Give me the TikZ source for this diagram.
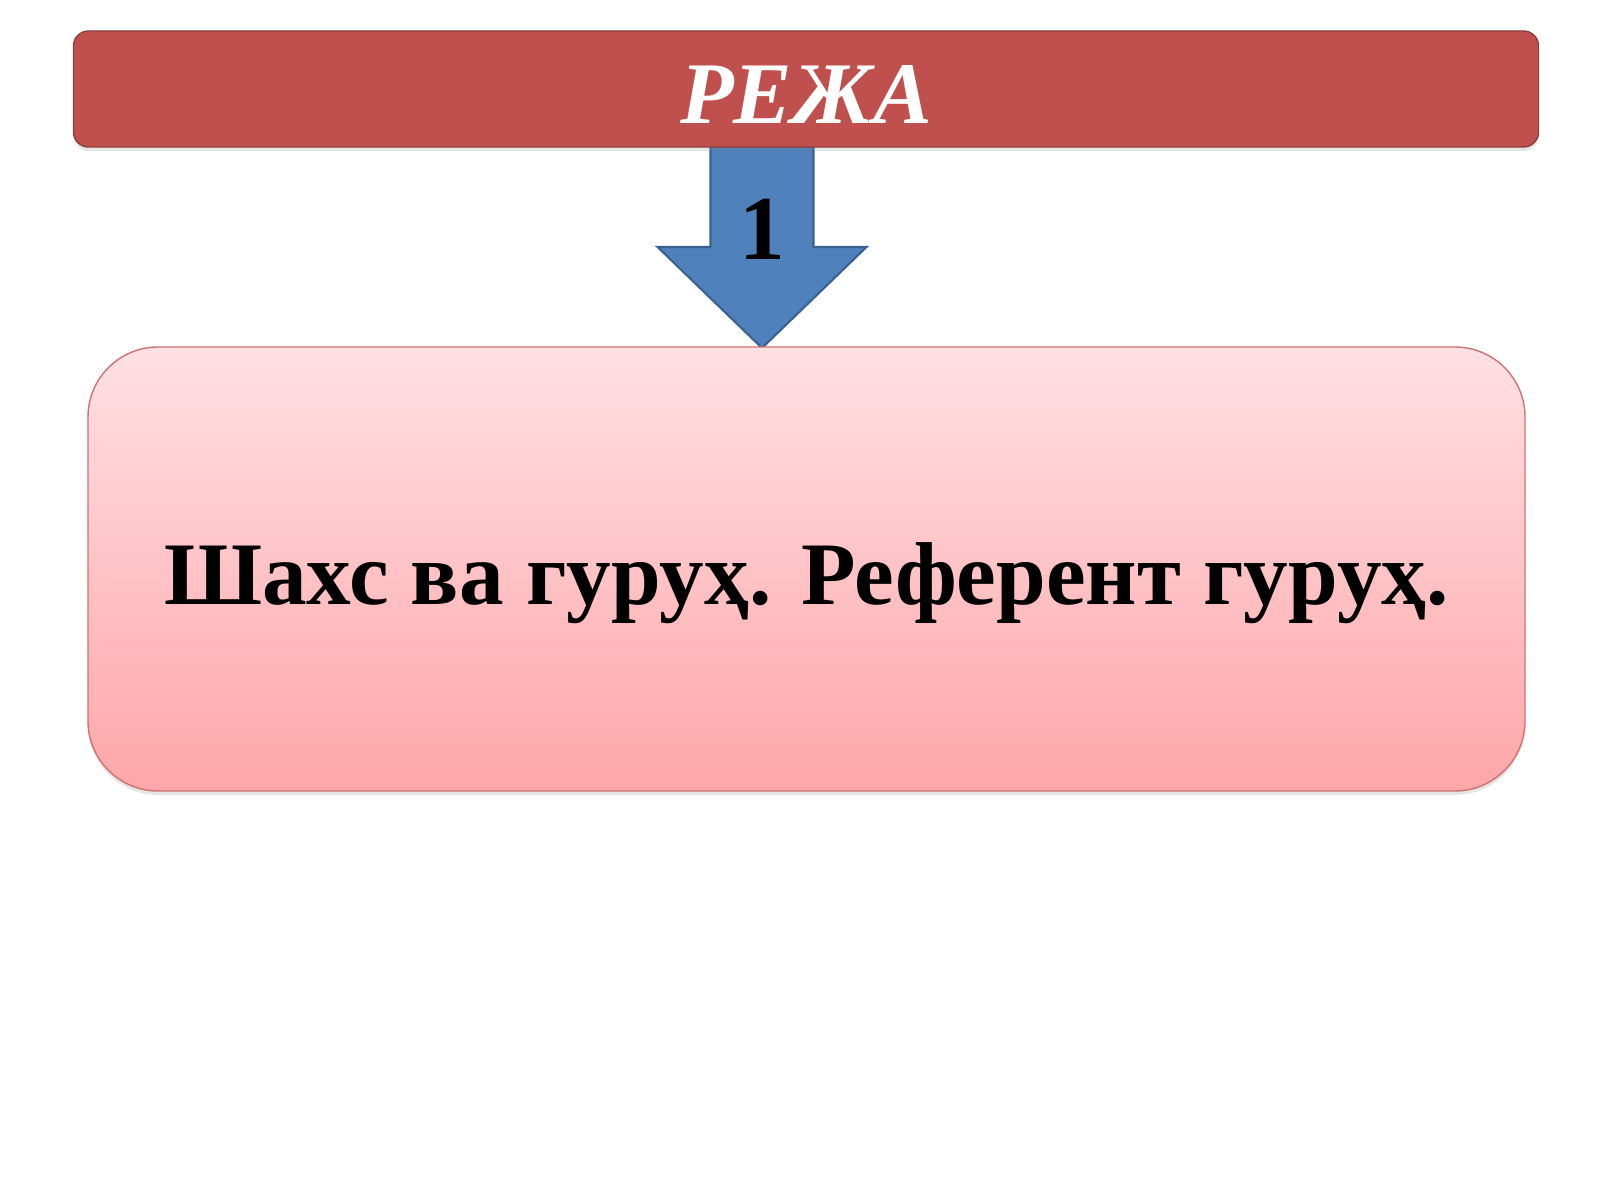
\documentclass[tikz,border=0pt]{standalone}
\usepackage{fontspec}
\setmainfont{Liberation Serif}
\usetikzlibrary{positioning,shadows}
\definecolor{myred}{RGB}{192,80,77}
\definecolor{myblue}{RGB}{79,129,189}
\definecolor{mypinktop}{RGB}{255,224,228}
\definecolor{mypinkbot}{RGB}{255,166,168}

\begin{document}
\begin{tikzpicture}
    \useasboundingbox (0,0) rectangle (16,12);
    % Arrow from the title to the box
    \coordinate (tip) at (7.62,8.52);
    \draw[myblue!75!black, fill=myblue, line width=0.6pt]
        (tip) -- ++(1.045,1.01) -- ++(-0.53,0) -- ++(0,1.1)
        -- ++(-1.03,0) -- ++(0,-1.1) -- ++(-0.53,0) -- cycle;
    \node[anchor=base, font=\bfseries\fontsize{26}{30}\selectfont] (num) at (7.62,9.40) {1};
    % Title bar
    \node[draw=myred!75!black, fill=myred, rounded corners=0.15cm,
        minimum width=14.65cm, minimum height=1.16cm, text=white,
        text height=0.7cm, text depth=0cm,
        drop shadow={opacity=0.2, shadow xshift=0pt, shadow yshift=-0.04cm},
        font=\bfseries\itshape\fontsize{25}{30}\selectfont] (title) at (8.06,11.11) {РЕЖА};
    % Topic box
    \node[draw=myred!80, top color=mypinktop, bottom color=mypinkbot, rounded corners=0.7cm,
        minimum width=14.37cm, minimum height=4.44cm,
        text height=0.9cm, text depth=0.2cm,
        drop shadow={opacity=0.2, shadow xshift=0pt, shadow yshift=-0.04cm},
        font=\bfseries\fontsize{25.4}{30}\selectfont] (box) at (8.065,6.31) {Шахс ва гуруҳ. Референт гуруҳ.};
\end{tikzpicture}
\end{document}
